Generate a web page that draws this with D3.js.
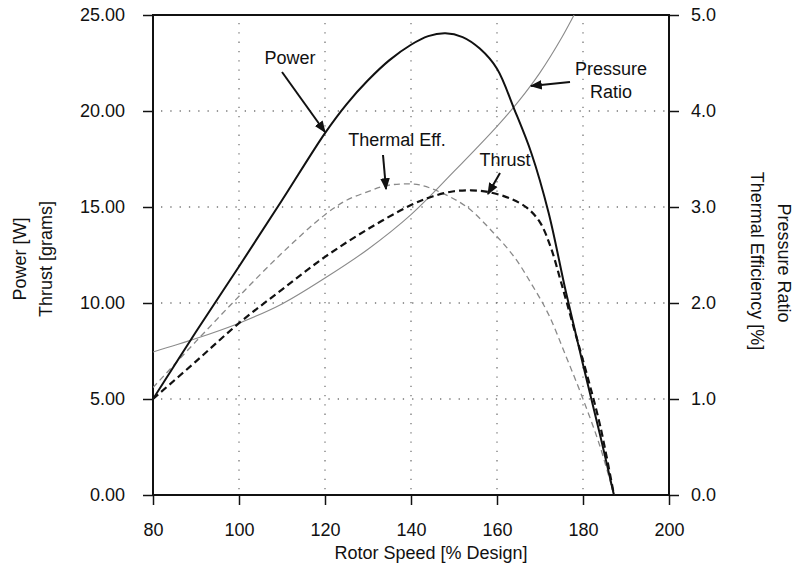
<!DOCTYPE html>
<html>
<head>
<meta charset="utf-8">
<script src="https://cdn.jsdelivr.net/npm/d3@7"></script>
<style>
  body { margin: 0; background: #fff; }
  text { font-family: "Liberation Sans", Arial, sans-serif; fill: #111; }
</style>
</head>
<body>
<svg id="chart"></svg>
<script>
'use strict';

// values
var powerSpeed = [80, 90, 100, 110, 120, 125, 130, 135, 140, 144, 148, 152, 156, 160, 164, 168, 172, 176, 180, 184, 187.2];
var powerW     = [5.0, 8.5, 11.9, 15.35, 18.85, 20.35, 21.6, 22.65, 23.45, 23.9, 24.05, 23.85, 23.25, 22.2, 20.1, 17.8, 14.7, 10.6, 6.8, 3.1, 0];

var thrustSpeed = [80, 90, 100, 110, 120, 130, 140, 145, 150, 154, 158, 163, 167, 170, 172.5, 175, 178, 181, 184, 187.2];
var thrustG     = [5.0, 6.96, 8.95, 10.7, 12.4, 13.85, 15.1, 15.55, 15.82, 15.87, 15.78, 15.45, 14.95, 14.2, 12.9, 11.0, 8.6, 6.2, 3.6, 0];

var effSpeed = [80, 90, 100, 110, 120, 125, 130, 134, 138, 142, 147, 153, 159, 164, 168, 172, 176, 180, 184, 187.2];
var effPct   = [1.12, 1.6, 2.07, 2.52, 2.92, 3.07, 3.16, 3.22, 3.24, 3.23, 3.15, 3.0, 2.74, 2.48, 2.2, 1.88, 1.45, 1.0, 0.5, 0];

var prSpeed       = [80, 90, 100, 110, 120, 130, 140, 150, 160, 165, 170, 175, 180];
var pressureRatio = [1.49, 1.63, 1.79, 1.99, 2.26, 2.56, 2.92, 3.37, 3.84, 4.1, 4.4, 4.76, 5.18];

var xTicks = [80, 100, 120, 140, 160, 180, 200];
var leftTicks = [0, 5, 10, 15, 20, 25];
var rightTicks = [0, 1, 2, 3, 4, 5];

var width = 799, height = 577;
var plot = { left: 153, right: 669, top: 15, bottom: 495 };

var svg = d3.select('#chart')
  .attr('width', width)
  .attr('height', height);

var x = d3.scaleLinear().domain([80, 200]).range([plot.left, plot.right]);
var yL = d3.scaleLinear().domain([0, 25]).range([plot.bottom, plot.top]);
var yR = d3.scaleLinear().domain([0, 5]).range([plot.bottom, plot.top]);

svg.append('defs').append('clipPath').attr('id', 'clip')
  .append('rect')
  .attr('x', plot.left).attr('y', plot.top)
  .attr('width', plot.right - plot.left)
  .attr('height', plot.bottom - plot.top);

svg.select('defs').append('marker')
  .attr('id', 'arrow')
  .attr('viewBox', '0 0 10 10')
  .attr('refX', 9).attr('refY', 5)
  .attr('markerWidth', 6).attr('markerHeight', 6)
  .attr('markerUnits', 'strokeWidth')
  .attr('orient', 'auto')
  .append('path')
  .attr('d', 'M0,1 L10,5 L0,9 z')
  .attr('fill', '#111');

// grid
var grid = svg.append('g').attr('stroke', '#777').attr('stroke-width', 1.3).attr('stroke-dasharray', '1.3,8');
grid.selectAll('.vg').data(xTicks.slice(1, -1)).enter().append('line')
  .attr('x1', function (d) { return x(d); }).attr('x2', function (d) { return x(d); })
  .attr('y1', plot.top + 8).attr('y2', plot.bottom);
grid.selectAll('.hg').data(leftTicks.slice(1, -1)).enter().append('line')
  .attr('y1', function (d) { return yL(d); }).attr('y2', function (d) { return yL(d); })
  .attr('x1', plot.left + 8).attr('x2', plot.right);

// axes
var fmtL = d3.format('.2f'), fmtR = d3.format('.1f');
var axB = svg.append('g').attr('transform', 'translate(0,' + plot.bottom + ')')
  .call(d3.axisBottom(x).tickValues(xTicks).tickSize(10).tickPadding(16));
var axL = svg.append('g').attr('transform', 'translate(' + plot.left + ',0)')
  .call(d3.axisLeft(yL).tickValues(leftTicks).tickFormat(fmtL).tickSize(10).tickPadding(18));
var axR = svg.append('g').attr('transform', 'translate(' + plot.right + ',0)')
  .call(d3.axisRight(yR).tickValues(rightTicks).tickFormat(fmtR).tickSize(10).tickPadding(12));
[axB, axL, axR].forEach(function (a) {
  a.select('.domain').remove();
  a.selectAll('line').attr('stroke', '#111').attr('stroke-width', 1.5);
  a.selectAll('text').style('font-size', '18px').attr('fill', '#111');
});
axB.selectAll('text').attr('dy', '0.35em').attr('y', 35);

// frame
svg.append('rect')
  .attr('x', plot.left).attr('y', plot.top)
  .attr('width', plot.right - plot.left).attr('height', plot.bottom - plot.top)
  .attr('fill', 'none').attr('stroke', '#111').attr('stroke-width', 2);

// curves
var curves = svg.append('g').attr('clip-path', 'url(#clip)').attr('fill', 'none');
function drawLine(xs, ys, yScale) {
  var pts = xs.map(function (v, i) { return [v, ys[i]]; });
  return curves.append('path')
    .attr('d', d3.line()
      .x(function (d) { return x(d[0]); })
      .y(function (d) { return yScale(d[1]); })
      .curve(d3.curveCatmullRom.alpha(0.5))(pts));
}
drawLine(prSpeed, pressureRatio, yR).attr('stroke', '#8a8a8a').attr('stroke-width', 1.1);
drawLine(effSpeed, effPct, yR).attr('stroke', '#8a8a8a').attr('stroke-width', 1.3).attr('stroke-dasharray', '6,4');
drawLine(thrustSpeed, thrustG, yL).attr('stroke', '#111').attr('stroke-width', 2.2).attr('stroke-dasharray', '7,4');
drawLine(powerSpeed, powerW, yL).attr('stroke', '#111').attr('stroke-width', 2);

// labels with arrows
var notes = [
  { lines: ['Power'], tx: 290, ty: 58, from: [282, 72], to: [325, 132] },
  { lines: ['Thermal Eff.'], tx: 397, ty: 140, from: [383, 155], to: [386, 189] },
  { lines: ['Thrust'], tx: 505, ty: 160, from: [500, 173], to: [488, 194] },
  { lines: ['Pressure', 'Ratio'], tx: 611, ty: 69, from: [570, 82], to: [531, 86] }
];
notes.forEach(function (n) {
  var t = svg.append('text')
    .attr('x', n.tx).attr('y', n.ty)
    .attr('text-anchor', 'middle')
    .attr('dominant-baseline', 'central')
    .style('font-size', '18px');
  n.lines.forEach(function (s, i) {
    t.append('tspan').attr('x', n.tx).attr('dy', i === 0 ? 0 : '1.25em').text(s);
  });
  svg.append('line')
    .attr('x1', n.from[0]).attr('y1', n.from[1])
    .attr('x2', n.to[0]).attr('y2', n.to[1])
    .attr('stroke', '#111').attr('stroke-width', 2)
    .attr('marker-end', 'url(#arrow)');
});

// axis titles
svg.append('text')
  .attr('x', 431).attr('y', 553)
  .attr('text-anchor', 'middle').attr('dominant-baseline', 'central')
  .style('font-size', '18px')
  .text('Rotor Speed [% Design]');

function vTitle(txt, cx, cy, angle) {
  svg.append('text')
    .attr('transform', 'translate(' + cx + ',' + cy + ') rotate(' + angle + ')')
    .attr('text-anchor', 'middle').attr('dominant-baseline', 'central')
    .style('font-size', '18px')
    .text(txt);
}
vTitle('Power [W]', 20, 259, -90);
vTitle('Thrust [grams]', 46, 259, -90);
vTitle('Pressure Ratio', 784, 263, 90);
vTitle('Thermal Efficiency [%]', 757, 261, 90);
</script>
</body>
</html>
